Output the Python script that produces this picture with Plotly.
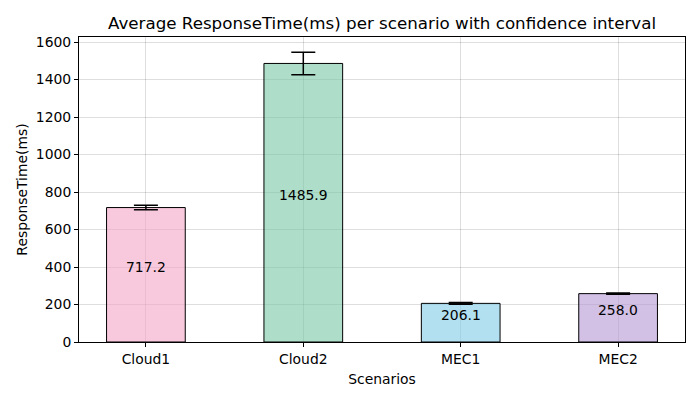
import plotly.graph_objects as go

# Data
scenarios = ["Cloud1", "Cloud2", "MEC1", "MEC2"]
mean_response = [717.2, 1485.9, 206.1, 258.0]
ci_halfwidth = [12, 60, 5, 3]
bar_colors = ["rgba(244,166,200,0.62)", "rgba(120,200,165,0.6)",
              "rgba(128,204,232,0.6)", "rgba(180,152,212,0.6)"]

fig = go.Figure()

fig.add_trace(go.Bar(
    x=scenarios,
    y=mean_response,
    width=0.5,
    marker=dict(color=bar_colors, line=dict(color="black", width=1)),
    error_y=dict(type="data", array=ci_halfwidth, color="black",
                 thickness=1.5, width=12),
    showlegend=False,
    hoverinfo="skip",
))

# Value labels in the middle of each bar
for s, v in zip(scenarios, mean_response):
    fig.add_annotation(x=s, y=v / 2, text=f"{v:.1f}", showarrow=False,
                       yshift=8, font=dict(size=13.9, color="black"))

fig.update_layout(
    width=700, height=400,
    plot_bgcolor="white", paper_bgcolor="white",
    font=dict(family="DejaVu Sans", size=13.9, color="black"),
    title=dict(text="Average ResponseTime(ms) per scenario with confidence interval",
               xref="paper", x=0.5, xanchor="center",
               y=0.9625, yanchor="middle",
               font=dict(size=16.7)),
    margin=dict(l=71, r=23, t=29, b=66),
)

fig.update_xaxes(
    title=dict(text="Scenarios", font=dict(size=13.9), standoff=8),
    range=[-0.425, 3.425],
    showgrid=True, gridcolor="rgba(0,0,0,0.13)",
    showline=True, linecolor="black", mirror=True,
    ticks="outside", ticklen=4, tickcolor="black",
)
fig.update_yaxes(
    title=dict(text="ResponseTime(ms)", font=dict(size=13.9), standoff=4),
    range=[0, 1627], dtick=200,
    showgrid=True, gridcolor="rgba(0,0,0,0.13)", zeroline=False,
    showline=True, linecolor="black", mirror=True,
    ticks="outside", ticklen=4, tickcolor="black",
)

fig.write_html("out.html")
